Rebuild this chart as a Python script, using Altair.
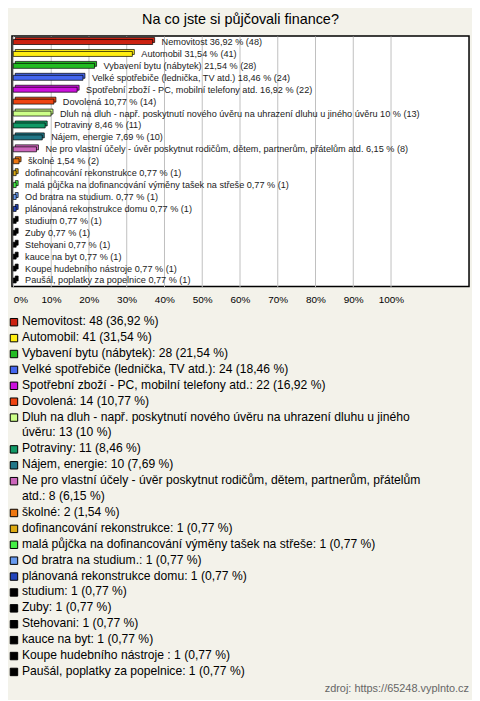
import altair as alt
import pandas as pd
import textwrap

title = "Na co jste si půjčovali finance?"
source = "zdroj: https://65248.vyplnto.cz"

names = [
    "Nemovitost",
    "Automobil",
    "Vybavení bytu (nábytek)",
    "Velké spotřebiče (lednička, TV atd.)",
    "Spotřební zboží - PC, mobilní telefony atd.",
    "Dovolená",
    "Dluh na dluh - např. poskytnutí nového úvěru na uhrazení dluhu u jiného úvěru",
    "Potraviny",
    "Nájem, energie",
    "Ne pro vlastní účely - úvěr poskytnut rodičům, dětem, partnerům, přátelům atd.",
    "školné",
    "dofinancování rekonstrukce",
    "malá půjčka na dofinancování výměny tašek na střeše",
    "Od bratra na studium.",
    "plánovaná rekonstrukce domu",
    "studium",
    "Zuby",
    "Stehovani",
    "kauce na byt",
    "Koupe hudebního nástroje ",
    "Paušál, poplatky za popelnice",
]
counts = [48, 41, 28, 24, 22, 14, 13, 11, 10, 8, 2, 1, 1, 1, 1, 1, 1, 1, 1, 1, 1]
percents = [36.92, 31.54, 21.54, 18.46, 16.92, 10.77, 10, 8.46, 7.69, 6.15, 1.54,
            0.77, 0.77, 0.77, 0.77, 0.77, 0.77, 0.77, 0.77, 0.77, 0.77]
pct_text = ["36,92", "31,54", "21,54", "18,46", "16,92", "10,77", "10", "8,46", "7,69", "6,15",
            "1,54", "0,77", "0,77", "0,77", "0,77", "0,77", "0,77", "0,77", "0,77", "0,77", "0,77"]
colors = ["#cc2211", "#ffee11", "#22bb22", "#4466ee", "#cc11dd", "#ee4411", "#ccff88",
          "#119966", "#227788", "#cc66bb", "#ee7711", "#ddaa11", "#44ee44", "#6699ee",
          "#2244bb", "#000000", "#000000", "#000000", "#000000", "#000000", "#000000"]
tick_values = [0, 10, 20, 30, 40, 50, 60, 70, 80, 90, 100]

FONT = "Liberation Sans"

df = pd.DataFrame({
    "name": names,
    "count": counts,
    "pct": percents,
    "bar_label": [f"{n} {p} % ({c})" for n, p, c in zip(names, pct_text, counts)],
})

# legend rows (wrapped text)
leg_lines = []
row = 0
rows = []
for n, p, c in zip(names, pct_text, counts):
    txt = f"{n}: {c} ({p} %)"
    wrapped = textwrap.wrap(txt, width=74)
    leg_lines.append("\n".join(wrapped))
    rows.append(row)
    row += len(wrapped)
df["legend_text"] = leg_lines
df["row"] = rows
n_lines = row

LINE_H = 16

color_scale = alt.Scale(domain=names, range=colors)
xscale = alt.Scale(domain=[-0.34, 120.7], nice=False, zero=False)
yenc = alt.Y("name:N", sort=names, axis=None,
             scale=alt.Scale(paddingInner=0, paddingOuter=0))

base = alt.Chart(df)

back = base.mark_bar(height=5, xOffset=2, x2Offset=2, yOffset=-2, y2Offset=-2,
                     stroke="black", strokeWidth=0.7).encode(
    x=alt.X("pct:Q", scale=xscale,
            axis=alt.Axis(values=tick_values, title=None, domain=False, ticks=False,
                          labelExpr="datum.value + '%'", labelFontSize=10,
                          labelColor="#000", labelPadding=8, grid=True,
                          gridColor="#c0c0c0", gridWidth=1,
                          labelAlign=alt.expr("datum.value == 0 ? 'left' : 'center'"))),
    x2=alt.datum(0),
    y=yenc,
    color=alt.Color("name:N", scale=color_scale, legend=None),
)
front = base.mark_bar(height=5, stroke="black", strokeWidth=0.7).encode(
    x=alt.X("pct:Q", scale=xscale),
    x2=alt.datum(0),
    y=yenc,
    color=alt.Color("name:N", scale=color_scale, legend=None),
)
labels = base.mark_text(align="left", baseline="middle", dx=9, fontSize=9.2,
                        font=FONT, color="#222").encode(
    x=alt.X("pct:Q", scale=xscale),
    y=yenc,
    text="bar_label:N",
)

bar_chart = alt.layer(back, front, labels).properties(
    width=460, height=252,
    title=alt.TitleParams(title, fontSize=14.5, fontWeight="normal", color="#000",
                          font=FONT, anchor="middle", offset=9),
    view=alt.ViewBackground(fill="white", stroke="black", strokeWidth=1.5),
)

leg_y = alt.Y("row:Q", axis=None,
              scale=alt.Scale(domain=[0, n_lines], range=[0, n_lines * LINE_H], nice=False))

swatch = base.mark_square(size=56, stroke="black", strokeWidth=1, opacity=1,
                          yOffset=LINE_H / 2).encode(
    x=alt.value(2),
    y=leg_y,
    color=alt.Color("name:N", scale=color_scale, legend=None),
)
leg_text = base.mark_text(align="left", baseline="top", fontSize=12.2, font=FONT,
                          lineBreak="\n", lineHeight=LINE_H, dy=1, color="#000").encode(
    x=alt.value(10),
    y=leg_y,
    text="legend_text:N",
)
src = alt.Chart(pd.DataFrame({"t": [source]})).mark_text(
    align="right", baseline="middle", fontSize=11, font=FONT, color="#666").encode(
    x=alt.value(460), y=alt.value(377), text="t:N")

legend_chart = alt.layer(swatch, leg_text, src).properties(
    width=460, height=n_lines * LINE_H,
    view=alt.ViewBackground(fill=None, stroke=None),
)

chart = alt.vconcat(bar_chart, legend_chart, spacing=9).properties(
    background="#f3f2ea",
    padding={"left": 0, "top": 0, "right": 2, "bottom": 4},
).configure(font=FONT)

chart.save("out.html", embed_options={"renderer": "svg", "actions": False})
